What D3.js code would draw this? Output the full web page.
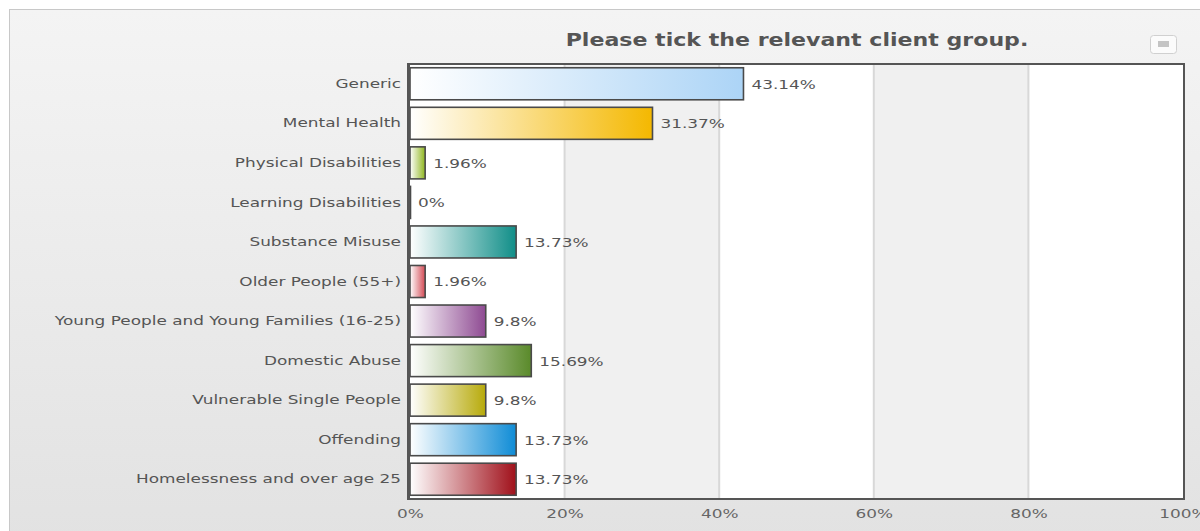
<!DOCTYPE html>
<html>
<head>
<meta charset="utf-8">
<script src="https://d3js.org/d3.v7.min.js"></script>
<style>
    html, body { margin: 0; padding: 0; background: white; }
    svg { display: block; font-family: 'DejaVu Sans', Verdana, sans-serif; }
</style>
</head>
<body>
<script>

// DATA
const title = 'Please tick the relevant client group.'
const groups = ['Generic', 'Mental Health', 'Physical Disabilities', 'Learning Disabilities',
    'Substance Misuse', 'Older People (55+)', 'Young People and Young Families (16-25)',
    'Domestic Abuse', 'Vulnerable Single People', 'Offending', 'Homelessness and over age 25']
const percents = [43.14, 31.37, 1.96, 0, 13.73, 1.96, 9.8, 15.69, 9.8, 13.73, 13.73]
const colours = ['#acd4f6', '#f4b800', '#8fb61e', '#333333', '#108e88', '#d44a55',
    '#8e4a92', '#5a8a2a', '#b7aa0a', '#0f8cd6', '#a0101a']
const ticks = [0, 20, 40, 60, 80, 100]

// LAYOUT
const W = 1200, H = 531
const pLeft = 410, pRight = 1183, pTop = 64, pBottom = 499
const stretch = 1.3   // the source chart text is stretched sideways

const svg = d3.select('body').append('svg').attr('width', W).attr('height', H)
const defs = svg.append('defs')

let bg = defs.append('linearGradient').attr('id', 'bg').attr('x1', 0).attr('x2', 0).attr('y1', 0).attr('y2', 1)
bg.append('stop').attr('offset', '0%').attr('stop-color', '#f4f4f4')
bg.append('stop').attr('offset', '100%').attr('stop-color', '#e2e2e2')

svg.append('rect').attr('width', W).attr('height', H).attr('fill', 'white')
svg.append('rect').attr('x', 9.5).attr('y', 9.5).attr('width', W).attr('height', H)
    .attr('fill', 'url(#bg)').attr('stroke', '#c8c8c8')

// title + menu button
svg.append('text').text(title)
    .attr('x', 797).attr('y', 46)
    .attr('text-anchor', 'middle')
    .attr('font-size', '17px').attr('font-weight', 'bold').attr('fill', '#555')

svg.append('rect').attr('x', 1150.5).attr('y', 35.5).attr('width', 26).attr('height', 18).attr('rx', 3)
    .attr('fill', '#fbfbfb').attr('stroke', '#d0d0d0')
svg.append('rect').attr('x', 1158).attr('y', 41).attr('width', 11).attr('height', 6).attr('fill', '#c4c4c4')

// SCALES
const x = d3.scaleLinear().domain([0, 100]).range([pLeft, pRight])
const y = d3.scaleBand().domain(groups).range([pTop, pBottom]).paddingInner(0.19).paddingOuter(0.095)

// alternate bands
const g = svg.append('g')
g.selectAll('.band').data(ticks.slice(0, -1)).enter().append('rect')
    .attr('x', d => x(d)).attr('y', pTop)
    .attr('width', d => x(d + 20) - x(d)).attr('height', pBottom - pTop)
    .attr('fill', (d, i) => i % 2 ? '#f0f0f0' : '#ffffff')

g.selectAll('.grid').data(ticks.slice(1, -1)).enter().append('line')
    .attr('x1', d => x(d)).attr('x2', d => x(d))
    .attr('y1', pTop).attr('y2', pBottom)
    .attr('stroke', '#d8d8d8').attr('stroke-width', 2)

// bar gradients
colours.forEach((c, i) => {
    let lg = defs.append('linearGradient').attr('id', 'bar' + i)
    lg.append('stop').attr('offset', '0%').attr('stop-color', '#ffffff')
    lg.append('stop').attr('offset', '100%').attr('stop-color', c)
})

const rows = g.selectAll('.row').data(groups).enter().append('g')

rows.append('rect')
    .attr('x', x(0))
    .attr('y', d => y(d))
    .attr('width', (d, i) => Math.max(x(percents[i]) - x(0), 0.5))
    .attr('height', y.bandwidth())
    .attr('fill', (d, i) => 'url(#bar' + i + ')')
    .attr('stroke', '#4a4a4a').attr('stroke-width', 1.6)

rows.append('text')
    .text((d, i) => percents[i] + '%')
    .attr('x', (d, i) => x(percents[i]) + 8)
    .attr('y', d => y(d) + y.bandwidth() / 2 + 5)
    .attr('font-size', '13px').attr('fill', '#555')

// AXES
const yAxis = svg.append('g').attr('transform', 'translate(' + (pLeft - 2) + ',0)')
    .call(d3.axisLeft(y).tickSize(0).tickPadding(7))
    .attr('font-family', null).attr('font-size', null)
yAxis.select('.domain').remove()
yAxis.selectAll('text').attr('font-size', '13px').attr('fill', '#555')

const xAxis = svg.append('g').attr('transform', 'translate(0,' + pBottom + ')')
    .call(d3.axisBottom(x).tickValues(ticks).tickFormat(d => d + '%').tickSize(0).tickPadding(10))
    .attr('font-family', null).attr('font-size', null)
xAxis.select('.domain').remove()
xAxis.selectAll('text').attr('font-size', '13px').attr('fill', '#666')

// frame
svg.append('path')
    .attr('d', 'M' + (pLeft - 1) + ',' + pTop + 'H' + (pRight + 1) + 'V' + pBottom + 'H' + (pLeft - 1))
    .attr('fill', 'none').attr('stroke', '#555').attr('stroke-width', 2)
svg.append('line')
    .attr('x1', pLeft - 1.5).attr('x2', pLeft - 1.5).attr('y1', pTop - 1).attr('y2', pBottom + 1)
    .attr('stroke', '#555').attr('stroke-width', 3)

// stretch every text sideways round its own anchor
svg.selectAll('text').each(function() {
    let t = d3.select(this)
    let tx = +t.attr('x') || 0
    t.attr('transform', 'translate(' + tx + ',0) scale(' + stretch + ',1) translate(' + (-tx) + ',0)')
})

</script>
</body>
</html>
